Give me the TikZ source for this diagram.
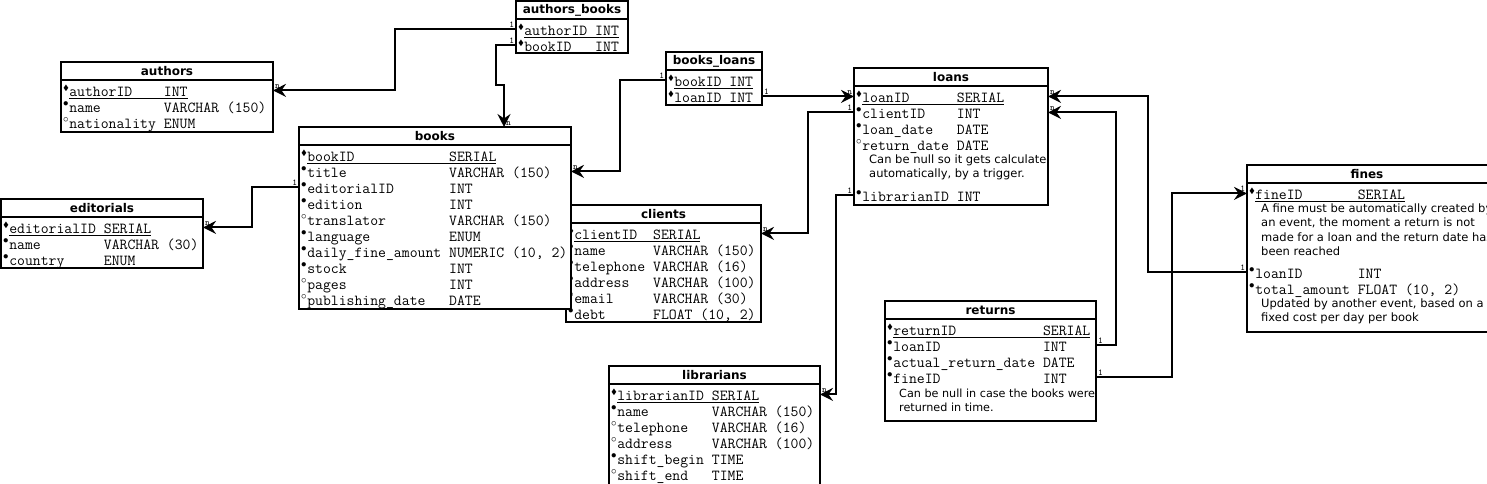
\documentclass[tikz,border=0pt]{standalone}
\usepackage{amssymb}
\usepackage{fontspec}
\newfontfamily\titlefont{DejaVu Sans}
\usetikzlibrary{arrows.meta,positioning,calc}

\newcommand{\colw}{12}
\newcommand{\fldbox}[2]{\makebox[\colw\fontcharwd\font`0][l]{#1}#2}
\newcommand{\keyf}[2]{\makebox[0.4em][l]{$^{\scriptscriptstyle\blacklozenge}$}\underline{\fldbox{#1}{#2}}}
\newcommand{\reqf}[2]{\makebox[0.4em][l]{$^{\bullet}$}\fldbox{#1}{#2}}
\newcommand{\optf}[2]{\makebox[0.4em][l]{$^{\circ}$}\fldbox{#1}{#2}}

\begin{document}
\begin{tikzpicture}[x=1pt,y=-1pt,>={Stealth[length=13pt,width=13pt,inset=4.5pt]},
  tbl/.style={draw,line width=2pt,fill=white,anchor=north west,inner sep=0,outer sep=0},
  tbltitle/.style={anchor=north,minimum height=18,inner sep=0,font=\titlefont\bfseries\fontsize{12}{14}\selectfont},
  tblsep/.style={line width=2pt},
  attr/.style={anchor=west,inner sep=0,text height=13pt,text depth=1.5pt,font=\ttfamily\fontsize{15.3}{16}\selectfont},
  remark/.style={anchor=north west,inner sep=0,align=left,font=\titlefont\fontsize{11.5}{14.5}\selectfont},
  rel/.style={->,line width=2pt},
  card/.style={inner sep=1pt,font=\ttfamily\fontsize{9}{9}\selectfont}]
\useasboundingbox (0,0) rectangle (1487,484);

% authors_books
\node[tbl,minimum width=112,minimum height=52] (authorsbooks) at (516,1) {};
\node[tbltitle] (authorsbooks-t) at (authorsbooks.north) {authors\_books};
\draw[tblsep] (authorsbooks-t.south -| authorsbooks.west) -- (authorsbooks-t.south -| authorsbooks.east);
\def\colw{9}
\foreach \f [count=\i] in {{\keyf{authorID}{INT}},{\keyf{bookID}{INT}}}
  \node[attr] (authorsbooks-\i) at ($(authorsbooks-t.south -| authorsbooks.west)+(2,{16*\i-6})$) {\f};

% authors
\node[tbl,minimum width=212,minimum height=70] (authors) at (61,62) {};
\node[tbltitle] (authors-t) at (authors.north) {authors};
\draw[tblsep] (authors-t.south -| authors.west) -- (authors-t.south -| authors.east);
\def\colw{12}
\foreach \f [count=\i] in {{\keyf{authorID}{INT}},{\reqf{name}{VARCHAR (150)}},{\optf{nationality}{ENUM}}}
  \node[attr] (authors-\i) at ($(authors-t.south -| authors.west)+(2,{16*\i-6})$) {\f};

% editorials
\node[tbl,minimum width=202,minimum height=69] (editorials) at (1,199) {};
\node[tbltitle] (editorials-t) at (editorials.north) {editorials};
\draw[tblsep] (editorials-t.south -| editorials.west) -- (editorials-t.south -| editorials.east);
\def\colw{12}
\foreach \f [count=\i] in {{\keyf{editorialID}{SERIAL}},{\reqf{name}{VARCHAR (30)}},{\reqf{country}{ENUM}}}
  \node[attr] (editorials-\i) at ($(editorials-t.south -| editorials.west)+(2,{16*\i-6})$) {\f};

% clients (under books)
\node[tbl,minimum width=195,minimum height=117] (clients) at (566,205) {};
\node[tbltitle] (clients-t) at (clients.north) {clients};
\draw[tblsep] (clients-t.south -| clients.west) -- (clients-t.south -| clients.east);
\def\colw{10}
\foreach \f [count=\i] in {{\keyf{clientID}{SERIAL}},{\reqf{name}{VARCHAR (150)}},{\reqf{telephone}{VARCHAR (16)}},
    {\reqf{address}{VARCHAR (100)}},{\optf{email}{VARCHAR (30)}},{\reqf{debt}{FLOAT (10, 2)}}}
  \node[attr] (clients-\i) at ($(clients-t.south -| clients.west)+(2,{16*\i-6})$) {\f};

% books
\node[tbl,minimum width=272,minimum height=182] (books) at (299,127) {};
\node[tbltitle] (books-t) at (books.north) {books};
\draw[tblsep] (books-t.south -| books.west) -- (books-t.south -| books.east);
\def\colw{18}
\foreach \f [count=\i] in {{\keyf{bookID}{SERIAL}},{\reqf{title}{VARCHAR (150)}},{\reqf{editorialID}{INT}},
    {\reqf{edition}{INT}},{\optf{translator}{VARCHAR (150)}},{\reqf{language}{ENUM}},
    {\reqf{daily\_fine\_amount}{NUMERIC (10, 2)}},{\reqf{stock}{INT}},{\optf{pages}{INT}},
    {\optf{publishing\_date}{DATE}}}
  \node[attr] (books-\i) at ($(books-t.south -| books.west)+(2,{16*\i-6})$) {\f};

% books_loans
\node[tbl,minimum width=96,minimum height=53] (booksloans) at (666,52) {};
\node[tbltitle] (booksloans-t) at (booksloans.north) {books\_loans};
\draw[tblsep] (booksloans-t.south -| booksloans.west) -- (booksloans-t.south -| booksloans.east);
\def\colw{7}
\foreach \f [count=\i] in {{\keyf{bookID}{INT}},{\keyf{loanID}{INT}}}
  \node[attr] (booksloans-\i) at ($(booksloans-t.south -| booksloans.west)+(2,{16*\i-6})$) {\f};

% loans
\node[tbl,minimum width=194,minimum height=137] (loans) at (854,68) {};
\node[tbltitle] (loans-t) at (loans.north) {loans};
\draw[tblsep] (loans-t.south -| loans.west) -- (loans-t.south -| loans.east);
\def\colw{12}
\foreach \f [count=\i] in {{\keyf{loanID}{SERIAL}},{\reqf{clientID}{INT}},{\reqf{loan\_date}{DATE}},
    {\optf{return\_date}{DATE}}}
  \node[attr] (loans-\i) at ($(loans-t.south -| loans.west)+(2,{16*\i-6})$) {\f};
\node[attr] (loans-5) at ($(loans-4.west)+(0,51)$) {\reqf{librarianID}{INT}};
\begin{scope}
  \clip (loans.north west) rectangle (loans.south east);
  \node[remark] (loans-note) at ($(loans-4.west)+(13,10)$) {Can be null so it gets calculated\\automatically, by a trigger.};
\end{scope}

% librarians
\node[tbl,minimum width=211,minimum height=122] (librarians) at (609,366) {};
\node[tbltitle] (librarians-t) at (librarians.north) {librarians};
\draw[tblsep] (librarians-t.south -| librarians.west) -- (librarians-t.south -| librarians.east);
\def\colw{12}
\foreach \f [count=\i] in {{\keyf{librarianID}{SERIAL}},{\reqf{name}{VARCHAR (150)}},{\optf{telephone}{VARCHAR (16)}},
    {\optf{address}{VARCHAR (100)}},{\reqf{shift\_begin}{TIME}},{\optf{shift\_end}{TIME}}}
  \node[attr] (librarians-\i) at ($(librarians-t.south -| librarians.west)+(2,{16*\i-6})$) {\f};

% returns
\node[tbl,minimum width=211,minimum height=120] (returns) at (885,301) {};
\node[tbltitle] (returns-t) at (returns.north) {returns};
\draw[tblsep] (returns-t.south -| returns.west) -- (returns-t.south -| returns.east);
\def\colw{19}
\foreach \f [count=\i] in {{\keyf{returnID}{SERIAL}},{\reqf{loanID}{INT}},{\reqf{actual\_return\_date}{DATE}},
    {\reqf{fineID}{INT}}}
  \node[attr] (returns-\i) at ($(returns-t.south -| returns.west)+(2,{16*\i-6})$) {\f};
\begin{scope}
  \clip (returns.north west) rectangle (returns.south east);
  \node[remark,font=\titlefont\fontsize{11.2}{14.5}\selectfont] (returns-note) at ($(returns-4.west)+(12,11)$) {Can be null in case the books were\\returned in time.};
\end{scope}

% fines
\node[tbl,minimum width=241,minimum height=167] (fines) at (1247,165) {};
\node[tbltitle] (fines-t) at ([xshift=-0.5pt]fines.north) {fines};
\draw[tblsep] (fines-t.south -| fines.west) -- (fines-t.south -| fines.east);
\def\colw{13}
\node[attr] (fines-1) at ($(fines-t.south -| fines.west)+(2,10)$) {\keyf{fineID}{SERIAL}};
\node[attr] (fines-2) at ($(fines-1.west)+(0,79)$) {\reqf{loanID}{INT}};
\node[attr] (fines-3) at ($(fines-2.west)+(0,16)$) {\reqf{total\_amount}{FLOAT (10, 2)}};
\begin{scope}
  \clip (fines.north west) rectangle (fines.south east);
  \node[remark] (fines-note1) at ($(fines-1.west)+(12,10)$) {A fine must be automatically created by\\an event, the moment a return is not\\made for a loan and the return date has\\been reached};
  \node[remark] (fines-note2) at ($(fines-3.west)+(12,10)$) {Updated by another event, based on a\\fixed cost per day per book};
\end{scope}

% relations
\draw[rel] (authorsbooks.west |- authorsbooks-1) node[card,above left]{1} -- ++(-121,0)
  |- (authors.east |- authors-1) node[card,above right]{n};
\draw[rel] (authorsbooks.west |- authorsbooks-2) node[card,above left]{1} -- ++(-20,0) -- ++(0,40)
  -| ([xshift=205pt]books.north west) node[card,above right]{n};
\draw[rel] (books.west |- books-3) node[card,above left]{1} -- ++(-47,0)
  |- (editorials.east |- editorials-1) node[card,above right]{n};
\draw[rel] (booksloans.west |- booksloans-1) node[card,above left]{1} -- ++(-46,0)
  |- (books.east |- books-2) node[card,above right]{n};
\draw[rel] (booksloans.east |- booksloans-2) node[card,above right]{1}
  -- (loans.west |- loans-1) node[card,above left]{n};
\draw[rel] (loans.west |- loans-2) node[card,above left]{1} -- ++(-46,0)
  |- (clients.east |- clients-1) node[card,above right]{n};
\draw[rel] (loans.west |- loans-5) node[card,above left]{1} -- ++(-18,0)
  |- (librarians.east |- librarians-1) node[card,above right]{n};
\draw[rel] (fines.west |- fines-2) node[card,above left]{1} -- ++(-99,0)
  |- (loans.east |- loans-1) node[card,above right]{n};
\draw[rel] (returns.east |- returns-2) node[card,above right]{1} -- ++(20,0)
  |- (loans.east |- loans-2) node[card,above right]{n};
\draw[rel] (returns.east |- returns-4) node[card,above right]{1} -- ++(76,0)
  |- (fines.west |- fines-1) node[card,above left]{1};
\end{tikzpicture}
\end{document}
